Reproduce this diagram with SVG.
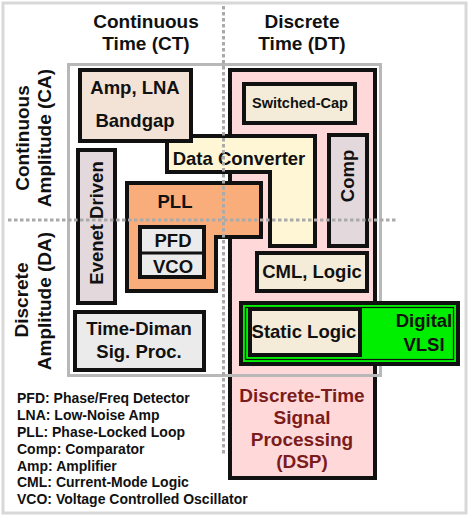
<svg xmlns="http://www.w3.org/2000/svg" width="470" height="518" viewBox="0 0 470 518">
<style>
text{font-family:"Liberation Sans",Arial,sans-serif;font-weight:bold;fill:#111;}
.n{font-size:18.5px;text-anchor:middle;}
.h{font-size:19px;text-anchor:middle;}
.lg{font-size:14px;}
.box{stroke:#111;stroke-width:4;}
.dot{stroke:#aaaaaa;stroke-width:3;stroke-dasharray:3.5 2.5;fill:none;}
</style>
<rect x="3" y="3" width="463" height="510" fill="#fff" stroke="#d8d8d8" stroke-width="3"/>

<g id="headers">
<text class="h" x="146" y="28">Continuous</text>
<text class="h" x="146" y="50">Time (CT)</text>
<text class="h" x="302" y="28">Discrete</text>
<text class="h" x="302" y="50">Time (DT)</text>
<text class="h" transform="translate(29,138) rotate(-90)">Continuous</text>
<text class="h" transform="translate(51,138) rotate(-90)">Amplitude (CA)</text>
<text class="h" transform="translate(28,300) rotate(-90)">Discrete</text>
<text class="h" transform="translate(51,301) rotate(-90)">Amplitude (DA)</text>
</g>

<g id="dsp">
<rect class="box" x="230" y="70" width="145" height="408" fill="#ffd9d9" stroke-width="4.5"/>
<text class="h" x="302" y="402" style="fill:#7b1c1c">Discrete-Time</text>
<text class="h" x="302" y="424" style="fill:#7b1c1c">Signal</text>
<text class="h" x="302" y="446" style="fill:#7b1c1c">Processing</text>
<text class="h" x="302" y="468" style="fill:#7b1c1c">(DSP)</text>
</g>

<rect id="frame" x="68.5" y="64.5" width="312" height="311" fill="none" stroke="#b8b8b8" stroke-width="3"/>

<g id="switched-cap">
<rect class="box" x="244" y="84" width="111" height="39" fill="#f4ecd8"/>
<text x="300" y="108" style="font-size:14.5px;text-anchor:middle">Switched-Cap</text>
</g>

<g id="data-converter">
<polygon class="box" points="167,136 315,136 315,246 270,246 270,172 167,172" fill="#fff6d6"/>
<text class="n" x="239" y="165">Data Converter</text>
</g>

<g id="amp-lna">
<rect class="box" x="80" y="70" width="111" height="71" fill="#f3e3d6"/>
<text class="n" x="135" y="94">Amp, LNA</text>
<text class="n" x="135" y="127">Bandgap</text>
</g>

<g id="comp">
<rect class="box" x="329" y="135" width="38" height="111" fill="#e3d9dc"/>
<text class="n" transform="translate(354,176) rotate(-90)">Comp</text>
</g>

<g id="evenet-driven">
<rect class="box" x="78" y="150" width="37" height="153" fill="#e3d9dc"/>
<text class="n" transform="translate(103,223) rotate(-90)">Evenet Driven</text>
</g>

<g id="pll">
<polygon class="box" points="127,183 261,183 261,237 216,237 216,291 127,291" fill="#f9ad7a"/>
<text class="n" x="175" y="208">PLL</text>
</g>

<g id="pfd-vco">
<rect class="box" x="140" y="227" width="64" height="50" fill="#ebebeb"/>
<line x1="140" y1="253" x2="204" y2="253" stroke="#111" stroke-width="3"/>
<text class="n" x="173" y="247">PFD</text>
<text class="n" x="173" y="273">VCO</text>
</g>

<g id="cml-logic">
<rect class="box" x="257" y="253" width="110" height="38" fill="#f4ecd8"/>
<text class="n" x="312" y="278">CML, Logic</text>
</g>

<g id="time-diman">
<rect class="box" x="75" y="312" width="129" height="58" fill="#ebebeb"/>
<text class="n" x="139" y="335">Time-Diman</text>
<text class="n" x="139" y="358">Sig. Proc.</text>
</g>

<g id="digital-vlsi">
<rect class="box" x="241" y="303" width="217" height="61" fill="#00ee00"/>
<rect x="245.5" y="307.5" width="208" height="52" fill="none" stroke="#111" stroke-width="1.2"/>
<text class="n" x="424" y="327">Digital</text>
<text class="n" x="424" y="351">VLSI</text>
</g>

<g id="static-logic">
<rect class="box" x="250" y="309" width="110" height="46" fill="#f4ecd8"/>
<text class="n" x="304" y="338">Static Logic</text>
</g>

<g id="connectors">
<line class="dot" x1="223.5" y1="6" x2="223.5" y2="456"/>
<line class="dot" x1="8" y1="220" x2="396" y2="220"/>
</g>

<g id="legend">
<text class="lg" x="17" y="403">PFD: Phase/Freq Detector</text>
<text class="lg" x="17" y="420">LNA: Low-Noise Amp</text>
<text class="lg" x="17" y="437">PLL: Phase-Locked Loop</text>
<text class="lg" x="17" y="453.5">Comp: Comparator</text>
<text class="lg" x="17" y="470.5">Amp: Amplifier</text>
<text class="lg" x="17" y="487">CML: Current-Mode Logic</text>
<text class="lg" x="17" y="504">VCO: Voltage Controlled Oscillator</text>
</g>
</svg>
